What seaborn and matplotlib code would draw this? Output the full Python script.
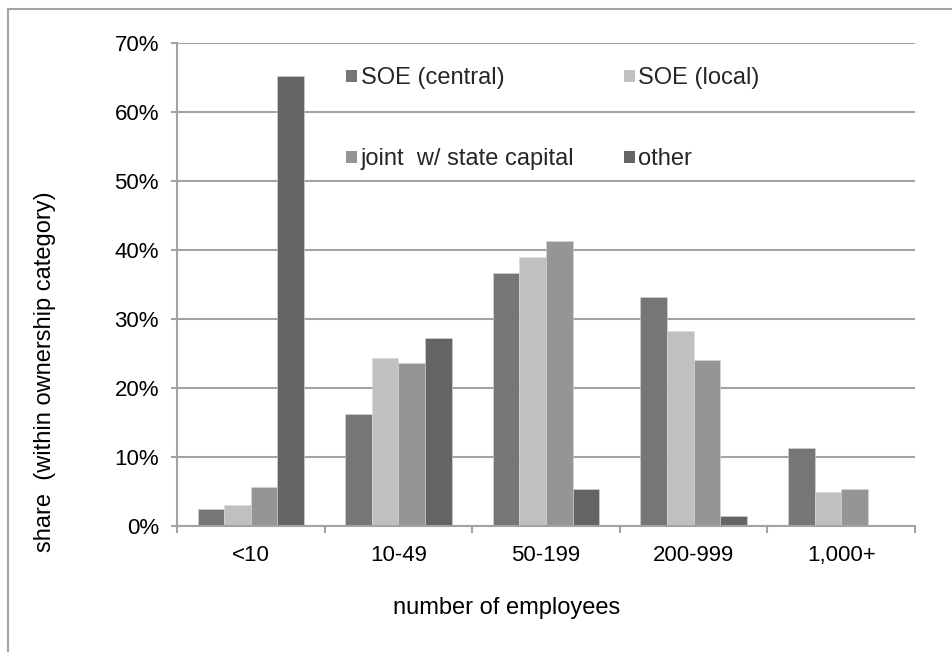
import matplotlib
matplotlib.use("Agg")
import matplotlib.pyplot as plt
from matplotlib.patches import Rectangle, Patch
import numpy as np
import pandas as pd
import seaborn as sns

# Firm size bands and share of firms in each band, per ownership category (%)
size_bands = ["<10", "10-49", "50-199", "200-999", "1,000+"]
ownership = ["SOE (central)", "SOE (local)", "joint  w/ state capital", "other"]
soe_central = [2.4, 16.2, 36.7, 33.2, 11.3]
soe_local = [3.0, 24.3, 39.0, 28.3, 5.0]
joint_state = [5.6, 23.6, 41.3, 24.0, 5.4]
other = [65.2, 27.2, 5.3, 1.5, 0.15]
y_ticks = [0, 10, 20, 30, 40, 50, 60, 70]

colors = ["#767676", "#c0c0c0", "#959595", "#646464"]
grid_gray = "#a3a3a3"

series = [soe_central, soe_local, joint_state, other]
df = pd.DataFrame(
    [(band, own, val)
     for own, vals in zip(ownership, series)
     for band, val in zip(size_bands, vals)],
    columns=["size", "ownership", "share"],
)

sns.set_theme(style="white")
plt.rcParams["font.family"] = ["Liberation Sans", "DejaVu Sans"]

fig = plt.figure(figsize=(9.53, 6.52), dpi=100)
ax = fig.add_axes([177 / 953, 1 - 526 / 652, 738 / 953, 483 / 652])

sns.barplot(
    data=df, x="size", y="share", hue="ownership",
    order=size_bands, hue_order=ownership, palette=colors,
    width=0.72, gap=0, dodge=True, saturation=1,
    edgecolor="#d8d8d8", linewidth=0.4, legend=False, ax=ax,
)

ax.set_xlim(-0.5, len(size_bands) - 0.5)
ax.set_ylim(0, 70)
ax.set_yticks(y_ticks)
ax.set_yticklabels([f"{t}%" for t in y_ticks])
ax.yaxis.grid(True, color=grid_gray, linewidth=1.5)
ax.set_axisbelow(True)

for side in ["top", "right"]:
    ax.spines[side].set_visible(False)
for side in ["left", "bottom"]:
    ax.spines[side].set_color(grid_gray)
    ax.spines[side].set_linewidth(1.5)

# category boundary ticks on the x axis, labels centred in each band
ax.set_xticks(np.arange(len(size_bands)))
ax.set_xticks(np.arange(-0.5, len(size_bands)), minor=True)
ax.tick_params(axis="x", which="major", length=0, pad=14, labelsize=16,
               labelcolor="black")
ax.tick_params(axis="x", which="minor", length=5, width=1.5, color=grid_gray,
               bottom=True, direction="out")
ax.tick_params(axis="y", which="major", length=4, width=1.5, color=grid_gray,
               left=True, direction="out", pad=9, labelsize=16,
               labelcolor="black")

ax.set_xlabel("number of employees", fontsize=17, color="black")
ax.xaxis.set_label_coords((507 - 177) / 738, (526 - 608) / 483)
ax.xaxis.label.set_va("center")
ax.set_ylabel("share  (within ownership category)", fontsize=17,
              color="black")
ax.yaxis.set_label_coords((45 - 177) / 738, (526 - 372) / 483)
ax.yaxis.label.set_va("center")

# legend fills column by column: central/joint on the left, local/other right
order = [0, 2, 1, 3]
handles = [Patch(facecolor=colors[i], edgecolor="none") for i in order]
labels = [ownership[i] for i in order]
ax.legend(
    handles, labels, ncol=2, frameon=False, fontsize=17,
    loc="upper left", bbox_to_anchor=((337 - 177) / 738, (526 - 58) / 483),
    handlelength=0.45, handleheight=0.45, handletextpad=0.15,
    columnspacing=2.12, labelspacing=2.5, borderaxespad=0,
)

# outer chart frame (only top and left edges fall inside the canvas)
fig.patches.append(Rectangle(
    (8 / 953, -0.1), 1.2, 1.1 - 9 / 652, transform=fig.transFigure,
    fill=False, edgecolor=grid_gray, linewidth=1.5, zorder=0,
))

fig.savefig("out.png", dpi=100)
